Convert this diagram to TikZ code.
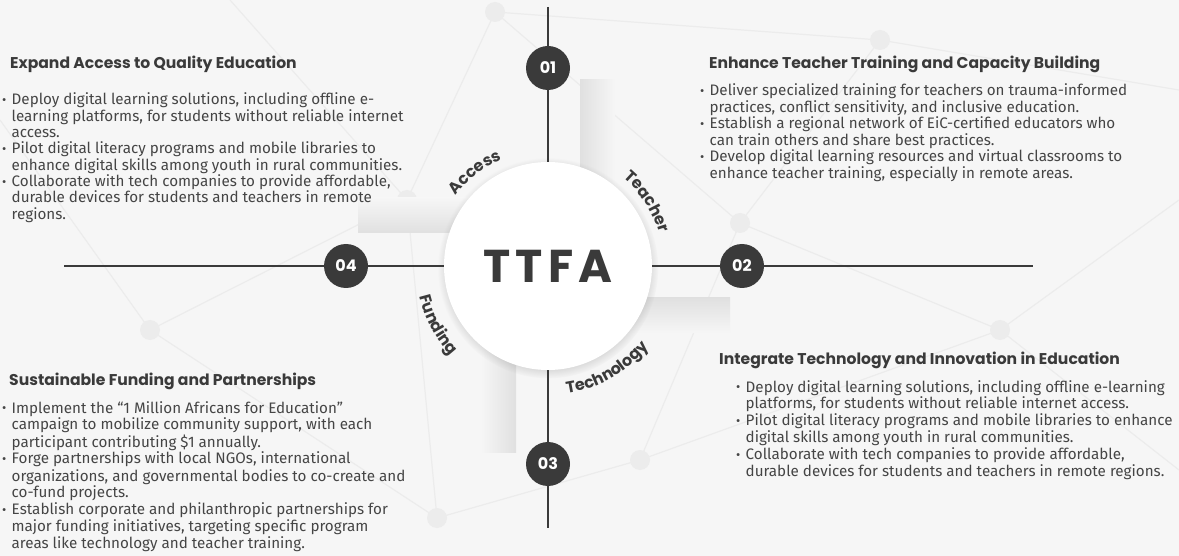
\documentclass[tikz,border=0pt]{standalone}
\usepackage{fontspec}
\setmainfont{Fira Sans}
\newfontfamily\popfont{Poppins}
\usetikzlibrary{decorations.text,shadows}
\definecolor{bg}{HTML}{F6F6F6}
\definecolor{ink}{HTML}{3A3A3A}
\definecolor{txt}{HTML}{454545}
\definecolor{net}{HTML}{ECECEC}
\definecolor{shd}{HTML}{E0E0E0}
\newcommand{\blt}{\raisebox{0.05ex}{\fontsize{13}{13}\selectfont•}}
\newcommand{\labfont}{\popfont\bfseries\fontsize{16}{16}\selectfont\color{ink}}
\newcommand{\bi}[1]{\hbox{\makebox[9.5pt][l]{\blt}#1}}
\newcommand{\ci}[1]{\hbox{\hspace*{9.5pt}#1}}
\newcommand{\blist}[2]{\vtop{\baselineskip=#1pt\lineskiplimit=-20pt\lineskip=0pt #2}}
\begin{document}
\begin{tikzpicture}[x=1pt,y=1pt,
  numc/.style={circle, fill=ink, minimum size=44pt, inner sep=0pt, text=white,
    font=\popfont\bfseries\fontsize{16}{16}\selectfont},
  axisline/.style={draw=ink, line width=2pt},
  ttl/.style={anchor=base west, inner sep=0pt, text=ink,
    font=\popfont\bfseries\fontsize{15.6}{17}\selectfont},
  body/.style={anchor=base west, inner sep=0pt, text=txt,
    font=\fontsize{15.2}{16}\selectfont},
  netline/.style={draw=net, line width=1.2pt},
  netdot/.style={fill=net},
  arclab/.style={decorate, decoration={text along path, text align=center, text={#1}}},
]
% background
\fill[bg] (0,0) rectangle (1179,-556);
\useasboundingbox (0,0) rectangle (1179,-556);
% faint network
\coordinate (pA) at (495,-12);
\coordinate (pB) at (407,-200);
\coordinate (pC) at (740,-223);
\coordinate (pD) at (640,-460);
\coordinate (pE) at (437,-518);
\coordinate (pF) at (880,-40);
\coordinate (pG) at (1000,-330);
\coordinate (pH) at (150,-330);
\draw[netline] (pA) -- (pB) -- (pE) -- (pD) -- (pC) -- (pA);
\draw[netline] (pC) -- (pF) -- (pA);
\draw[netline] (pC) -- (pG) -- (pD);
\draw[netline] (pB) -- (pH) -- (pE);
\draw[netline] (pH) -- (0,-120);
\draw[netline] (pG) -- (1179,-200);
\draw[netline] (pG) -- (1179,-470);
\draw[netline] (pF) -- (1179,-90);
\draw[netline] (pB) -- (230,0);
\foreach \p in {pA,pB,pC,pD,pE,pF,pG,pH} \fill[netdot] (\p) circle (10);
% shadow strips
\shade[top color=bg, bottom color=shd] (358,-198) rectangle (548,-233);
\shade[left color=shd, right color=bg] (580,-80) rectangle (615,-266);
\shade[top color=shd, bottom color=bg] (548,-298) rectangle (730,-333);
\shade[left color=bg, right color=shd] (481,-266) rectangle (516,-452);
% hub
\node[circle, fill=white, minimum size=208pt, inner sep=0pt,
  circular drop shadow={shadow xshift=0pt, shadow yshift=-2pt, shadow scale=1.06, opacity=0.4},
  text=ink, font=\popfont\bfseries\fontsize{46}{46}\selectfont] (hub) at (548,-266)
  {T\hspace{5pt}T\hspace{5pt}F\hspace{5pt}A};
% number nodes
\node[numc] (n1) at (548,-68) {01};
\node[numc] (n2) at (742,-266) {02};
\node[numc] (n3) at (548,-464) {03};
\node[numc] (n4) at (346,-266) {04};
\coordinate (vt) at (548,-7);
\coordinate (vb) at (548,-528);
\coordinate (hl) at (64,-266);
\coordinate (hr) at (1033,-266);
\draw[axisline] (vt) -- (n1); \draw[axisline] (n1) -- (hub);
\draw[axisline] (hub) -- (n3); \draw[axisline] (n3) -- (vb);
\draw[axisline] (hl) -- (n4); \draw[axisline] (n4) -- (hub);
\draw[axisline] (hub) -- (n2); \draw[axisline] (n2) -- (hr);
% arc labels
\path[arclab={|\labfont|Access}] (hub.center) ++(168:116) arc[start angle=168, end angle=88, radius=116];
\path[arclab={|\labfont|Teacher}] (hub.center) ++(73:116) arc[start angle=73, end angle=-7, radius=116];
\path[arclab={|\labfont|Funding}] (hub.center) ++(168:132) arc[start angle=168, end angle=248, radius=132];
\path[arclab={|\labfont|Technology}] (hub.center) ++(250:129) arc[start angle=250, end angle=350, radius=129];
% block 1
\node[ttl] (t1) at (10,-68.5) {Expand Access to Quality Education};
\node[body] (b1) at (2,-105) {\blist{16.3}{%
\bi{Deploy digital learning solutions, including offline e-}
\ci{learning platforms, for students without reliable internet}
\ci{access.}
\bi{Pilot digital literacy programs and mobile libraries to}
\ci{enhance digital skills among youth in rural communities.}
\bi{Collaborate with tech companies to provide affordable,}
\ci{durable devices for students and teachers in remote}
\ci{regions.}}};
% block 2
\node[ttl] (t2) at (709,-68.5) {Enhance Teacher Training and Capacity Building};
\node[body] (b2) at (700,-96) {\blist{16.5}{%
\bi{Deliver specialized training for teachers on trauma-informed}
\ci{practices, conflict sensitivity, and inclusive education.}
\bi{Establish a regional network of EiC-certified educators who}
\ci{can train others and share best practices.}
\bi{Develop digital learning resources and virtual classrooms to}
\ci{enhance teacher training, especially in remote areas.}}};
% block 3
\node[ttl] (t3) at (9,-385.5) {Sustainable Funding and Partnerships};
\node[body] (b3) at (2,-413) {\blist{17}{%
\bi{Implement the “1 Million Africans for Education”}
\ci{campaign to mobilize community support, with each}
\ci{participant contributing \$1 annually.}
\bi{Forge partnerships with local NGOs, international}
\ci{organizations, and governmental bodies to co-create and}
\ci{co-fund projects.}
\bi{Establish corporate and philanthropic partnerships for}
\ci{major funding initiatives, targeting specific program}
\ci{areas like technology and teacher training.}}};
% block 4
\node[ttl] (t4) at (719,-364.5) {Integrate Technology and Innovation in Education};
\node[body] (b4) at (736,-392) {\blist{16.9}{%
\bi{Deploy digital learning solutions, including offline e-learning}
\ci{platforms, for students without reliable internet access.}
\bi{Pilot digital literacy programs and mobile libraries to enhance}
\ci{digital skills among youth in rural communities.}
\bi{Collaborate with tech companies to provide affordable,}
\ci{durable devices for students and teachers in remote regions.}}};
\end{tikzpicture}
\end{document}
